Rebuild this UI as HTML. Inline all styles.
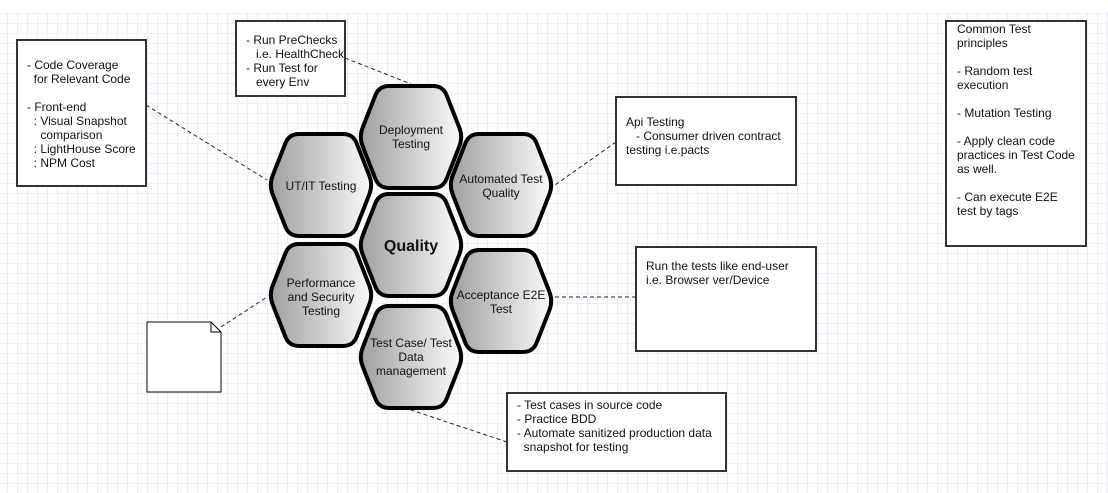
<!DOCTYPE html>
<html><head><meta charset="utf-8"><style>
body{margin:0;width:1108px;height:493px;overflow:hidden;background:#fff;font-family:"Liberation Sans",Arial,sans-serif}
.grid{position:absolute;left:0;top:12px;width:1108px;height:481px;
background-image:linear-gradient(to right,#ededfc 1px,transparent 1px),linear-gradient(to bottom,#ededfc 1px,transparent 1px);
background-size:10px 10px;background-position:7px 1px}
.box{position:absolute;background:#fff;border:2px solid #333;box-sizing:border-box;font-size:12px;line-height:14px;color:#111;white-space:pre}
svg{position:absolute;left:0;top:0}
</style></head><body>
<div class="grid"></div>
<svg width="1108" height="493">
<defs><linearGradient id="g" x1="0" x2="1" y1="0" y2="0"><stop offset="0" stop-color="#a0a0a0"/><stop offset="1" stop-color="#fafafa"/></linearGradient>
<path id="h" d="M -48.35,-9.31 L -35.65,-41.69 Q -32,-51 -22,-51 L 22,-51 Q 32,-51 35.65,-41.69 L 48.35,-9.31 Q 52,0 48.35,9.31 L 35.65,41.69 Q 32,51 22,51 L -22,51 Q -32,51 -35.65,41.69 L -48.35,9.31 Q -52,0 -48.35,-9.31 Z"/></defs>
<g stroke="#222" stroke-dasharray="4,3" stroke-width="1">
<line x1="146" y1="105" x2="267" y2="180"/>
<line x1="345" y1="58" x2="411" y2="84"/>
<line x1="616" y1="142" x2="555" y2="185"/>
<line x1="636" y1="297" x2="555" y2="297"/>
<line x1="507" y1="442" x2="411" y2="410"/>
<line x1="221" y1="327" x2="267" y2="297"/>
</g>
<g fill="url(#g)" stroke="#000" stroke-width="4">
<use href="#h" transform="translate(411,137)"/>
<use href="#h" transform="translate(321,185)"/>
<use href="#h" transform="translate(501,185)"/>
<use href="#h" transform="translate(411,245)"/>
<use href="#h" transform="translate(321,295)"/>
<use href="#h" transform="translate(501,301)"/>
<use href="#h" transform="translate(411,357)"/>
</g>
<g font-family="Liberation Sans,Arial,sans-serif" font-size="12" fill="#111" text-anchor="middle">
<text x="411" y="134">Deployment</text><text x="411" y="148">Testing</text>
<text x="321" y="190">UT/IT Testing</text>
<text x="501" y="183">Automated Test</text><text x="501" y="197">Quality</text>
<text x="411" y="251" font-size="16" font-weight="bold">Quality</text>
<text x="321" y="287">Performance</text><text x="321" y="301">and Security</text><text x="321" y="315">Testing</text>
<text x="501" y="299">Acceptance E2E</text><text x="501" y="313">Test</text>
<text x="411" y="347">Test Case/ Test</text><text x="411" y="361">Data</text><text x="411" y="375">management</text>
</g>
<path d="M147,322 H211 L221,332 V392 H147 Z" fill="#fff" stroke="#000" stroke-width="1"/>
<path d="M211,322 V332 H221" fill="none" stroke="#000" stroke-width="1"/>
</svg>
<div class="box" style="left:16px;top:39px;width:131px;height:148px;padding:17px 0 0 9px">- Code Coverage
  for Relevant Code

- Front-end
  : Visual Snapshot
    comparison
  : LightHouse Score
  : NPM Cost</div>
<div class="box" style="left:235px;top:20px;width:111px;height:77px;padding:11px 0 0 9px">- Run PreChecks
   i.e. HealthCheck
- Run Test for
   every Env</div>
<div class="box" style="left:615px;top:96px;width:182px;height:90px;padding:17px 0 0 9px">Api Testing
   - Consumer driven contract
testing i.e.pacts</div>
<div class="box" style="left:635px;top:246px;width:182px;height:106px;padding:11px 0 0 9px">Run the tests like end-user
i.e. Browser ver/Device</div>
<div class="box" style="left:506px;top:392px;width:221px;height:80px;padding:4px 0 0 9px">- Test cases in source code
- Practice BDD
- Automate sanitized production data
  snapshot for testing</div>
<div class="box" style="left:945px;top:20px;width:142px;height:227px;padding:0 0 0 10px">Common Test
principles

- Random test
execution

- Mutation Testing

- Apply clean code
practices in Test Code
as well.

- Can execute E2E
test by tags</div>
</body></html>
